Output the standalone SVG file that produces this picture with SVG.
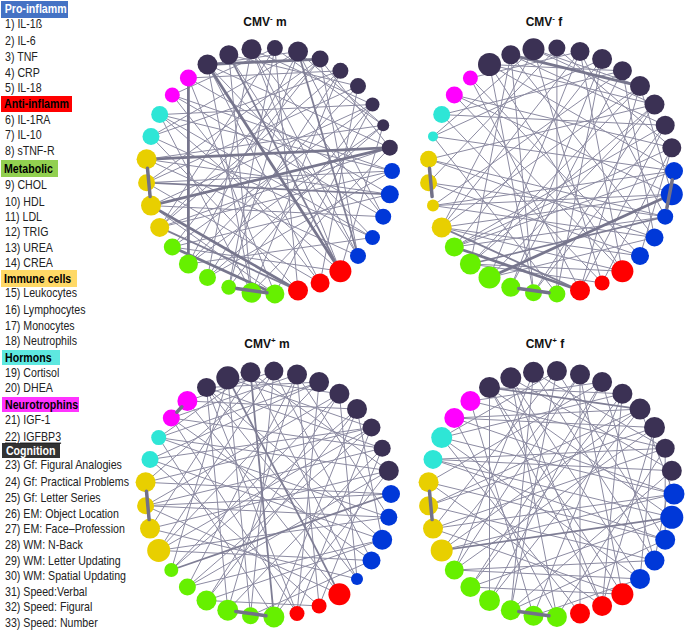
<svg xmlns="http://www.w3.org/2000/svg" width="685" height="632" viewBox="0 0 685 632">
<style>
.e{stroke:#8c8ba2;stroke-width:1;fill:none}
.m{stroke:#7f7e95;stroke-width:1.8;fill:none}
.t{stroke:#77768d;stroke-width:2.8;fill:none}
.o{stroke:#727188;stroke-width:3.5;fill:none;stroke-linecap:round}
.k{fill:#3b3154}.b{fill:#0038d8}.r{fill:#ff0000}.g{fill:#66f000}.y{fill:#e8cf00}.c{fill:#2ee6d6}.p{fill:#ff00ff}
.lt{font-family:"Liberation Sans",Arial,sans-serif;font-size:12.5px;fill:#222}
.lh{font-family:"Liberation Sans",Arial,sans-serif;font-size:12.5px;font-weight:bold;fill:#000}
.ti{font-family:"Liberation Sans",Arial,sans-serif;font-size:12px;font-weight:bold;fill:#111;text-anchor:middle}
</style>

<g id="legend">
<rect x="1" y="1" width="67" height="17" fill="#4472c4"/>
<rect x="1" y="96" width="71" height="16" fill="#ff0000"/>
<rect x="1" y="160" width="57" height="17" fill="#92d050"/>
<rect x="1" y="270" width="76" height="17" fill="#ffd966"/>
<rect x="2" y="350" width="58" height="15" fill="#5ee8e0"/>
<rect x="2" y="397" width="77" height="15" fill="#ff33ff"/>
<rect x="2" y="443" width="58" height="15" fill="#333333"/>
<g transform="scale(0.85 1)">
<text class="lh" x="5.5" y="13.5" style="fill:#fff">Pro-inflamm</text>
<text class="lh" x="4.7" y="108.5">Anti-inflamm</text>
<text class="lh" x="4.7" y="173">Metabolic</text>
<text class="lh" x="4.7" y="283">Immune cells</text>
<text class="lh" x="5.9" y="362">Hormons</text>
<text class="lh" x="5.9" y="409">Neurotrophins</text>
<text class="lh" x="7" y="455" style="fill:#fff">Cognition</text>
<text class="lt" x="5.9" y="28.5">1) IL-1ß</text>
<text class="lt" x="5.9" y="45.5">2) IL-6</text>
<text class="lt" x="5.9" y="61.5">3) TNF</text>
<text class="lt" x="5.9" y="77.5">4) CRP</text>
<text class="lt" x="5.9" y="92.5">5) IL-18</text>
<text class="lt" x="5.9" y="124.5">6) IL-1RA</text>
<text class="lt" x="5.9" y="139.5">7) IL-10</text>
<text class="lt" x="5.9" y="155.5">8) sTNF-R</text>
<text class="lt" x="5.9" y="189.5">9) CHOL</text>
<text class="lt" x="5.9" y="206.5">10) HDL</text>
<text class="lt" x="5.9" y="221.5">11) LDL</text>
<text class="lt" x="5.9" y="236.5">12) TRIG</text>
<text class="lt" x="5.9" y="252.5">13) UREA</text>
<text class="lt" x="5.9" y="267.5">14) CREA</text>
<text class="lt" x="5.9" y="297.5">15) Leukocytes</text>
<text class="lt" x="5.9" y="314.5">16) Lymphocytes</text>
<text class="lt" x="5.9" y="330.5">17) Monocytes</text>
<text class="lt" x="5.9" y="345.5">18) Neutrophils</text>
<text class="lt" x="5.9" y="377.5">19) Cortisol</text>
<text class="lt" x="5.9" y="392.5">20) DHEA</text>
<text class="lt" x="5.9" y="424.5">21) IGF-1</text>
<text class="lt" x="5.9" y="441.5" text-decoration="underline">22) IGFBP3</text>
<text class="lt" x="5.9" y="469.5">23) Gf: Figural Analogies</text>
<text class="lt" x="5.9" y="486.5">24) Gf: Practical Problems</text>
<text class="lt" x="5.9" y="502.5">25) Gf: Letter Series</text>
<text class="lt" x="5.9" y="518.5">26) EM: Object Location</text>
<text class="lt" x="5.9" y="533.5">27) EM: Face–Profession</text>
<text class="lt" x="5.9" y="549.5">28) WM: N-Back</text>
<text class="lt" x="5.9" y="565.5">29) WM: Letter Updating</text>
<text class="lt" x="5.9" y="580.5">30) WM: Spatial Updating</text>
<text class="lt" x="5.9" y="596.5">31) Speed:Verbal</text>
<text class="lt" x="5.9" y="611.5">32) Speed: Figural</text>
<text class="lt" x="5.9" y="627.5">33) Speed: Number</text>
</g>
</g>

<g id="titles">
<text class="ti" x="265" y="26">CMV<tspan dy="-5" font-size="8">-</tspan><tspan dy="5"> m</tspan></text>
<text class="ti" x="544" y="26">CMV<tspan dy="-5" font-size="8">-</tspan><tspan dy="5"> f</tspan></text>
<text class="ti" x="267" y="348">CMV<tspan dy="-5" font-size="8">+</tspan><tspan dy="5"> m</tspan></text>
<text class="ti" x="545" y="348">CMV<tspan dy="-5" font-size="8">+</tspan><tspan dy="5"> f</tspan></text>
</g>

<!-- ===== Panel CMV- m ===== -->
<g id="panel-tl" transform="translate(269,171)">
<g id="tl-connectors">
<path class="e" d="M-61.5 -106.5L120.8 -23.3"/>
<path class="e" d="M-61.5 -106.5L103.5 66.5"/>
<path class="e" d="M-61.5 -106.5L51.1 111.9"/>
<path class="e" d="M-40.2 -116.2L89 84.9"/>
<path class="e" d="M-40.2 -116.2L-17.5 121.7"/>
<path class="e" d="M-17.5 -121.7L71.4 100.2"/>
<path class="e" d="M-17.5 -121.7L-61.5 106.5"/>
<path class="e" d="M5.9 -122.9L29 119.5"/>
<path class="e" d="M5.9 -122.9L-109.3 56.4"/>
<path class="e" d="M29 -119.5L114.2 45.7"/>
<path class="e" d="M29 -119.5L-40.2 116.2"/>
<path class="e" d="M51.1 -111.9L-96.7 76"/>
<path class="e" d="M51.1 -111.9L-122.4 11.7"/>
<path class="e" d="M71.4 -100.2L-17.5 121.7"/>
<path class="e" d="M71.4 -100.2L-118 -34.6"/>
<path class="e" d="M89 -84.9L-80.6 93"/>
<path class="e" d="M89 -84.9L51.1 111.9"/>
<path class="e" d="M103.5 -66.5L-118 34.6"/>
<path class="e" d="M103.5 -66.5L5.9 122.9"/>
<path class="e" d="M114.2 -45.7L-122.4 -11.7"/>
<path class="e" d="M114.2 -45.7L-61.5 106.5"/>
<path class="e" d="M120.8 -23.3L-109.3 56.4"/>
<path class="e" d="M123 0L-122.4 11.7"/>
<path class="e" d="M123 0L-109.3 -56.4"/>
<path class="e" d="M120.8 23.3L-96.7 76"/>
<path class="e" d="M120.8 23.3L-80.6 -93"/>
<path class="e" d="M114.2 45.7L-118 34.6"/>
<path class="e" d="M114.2 45.7L-96.7 -76"/>
<path class="e" d="M103.5 66.5L-118 -34.6"/>
<path class="e" d="M103.5 66.5L-80.6 93"/>
<path class="e" d="M89 84.9L-122.4 -11.7"/>
<path class="e" d="M89 84.9L-17.5 -121.7"/>
<path class="e" d="M71.4 100.2L-109.3 -56.4"/>
<path class="e" d="M71.4 100.2L-96.7 76"/>
<path class="e" d="M51.1 111.9L-96.7 -76"/>
<path class="e" d="M51.1 111.9L-122.4 11.7"/>
<path class="e" d="M29 119.5L-118 -34.6"/>
<path class="e" d="M5.9 122.9L-80.6 -93"/>
<path class="e" d="M-17.5 121.7L-109.3 -56.4"/>
<path class="e" d="M-40.2 116.2L5.9 -122.9"/>
<path class="e" d="M-61.5 106.5L71.4 -100.2"/>
<path class="e" d="M-80.6 93L114.2 -45.7"/>
<path class="e" d="M-96.7 76L103.5 -66.5"/>
<path class="e" d="M-109.3 56.4L51.1 -111.9"/>
<path class="e" d="M-109.3 56.4L123 0"/>
<path class="e" d="M-122.4 11.7L89 -84.9"/>
<path class="e" d="M-118 -34.6L29 -119.5"/>
<path class="e" d="M-109.3 -56.4L103.5 -66.5"/>
<path class="e" d="M-96.7 -76L5.9 -122.9"/>
<path class="e" d="M-80.6 -93L71.4 -100.2"/>
<path class="e" d="M-61.5 -106.5L-17.5 121.7"/>
<path class="e" d="M-17.5 -121.7L114.2 45.7"/>
<path class="e" d="M29 -119.5L-80.6 93"/>
<path class="e" d="M51.1 -111.9L89 84.9"/>
<path class="e" d="M71.4 -100.2L-109.3 56.4"/>
<path class="e" d="M103.5 -66.5L-40.2 116.2"/>
<path class="e" d="M114.2 -45.7L71.4 100.2"/>
<path class="e" d="M120.8 -23.3L-17.5 121.7"/>
<path class="e" d="M123 0L-61.5 106.5"/>
<path class="e" d="M120.8 23.3L-122.4 -11.7"/>
<path class="e" d="M-109.3 -56.4L103.5 66.5"/>
<path class="e" d="M-40.2 -116.2L89 -84.9"/>
<path class="e" d="M-17.5 -121.7L103.5 -66.5"/>
<path class="e" d="M5.9 -122.9L114.2 -45.7"/>
<path class="e" d="M-96.7 -76L123 0"/>
<path class="e" d="M5.9 122.9L-118 34.6"/>
<path class="e" d="M-61.5 -106.5L29 -119.5"/>
<path class="e" d="M29 -119.5L114.2 -45.7"/>
<path class="e" d="M51.1 -111.9L120.8 -23.3"/>
<path class="m" d="M-40.2 -116.2L71.4 100.2"/>
<path class="m" d="M29 -119.5L89 84.9"/>
<path class="m" d="M-122.4 11.7L120.8 23.3"/>
<path class="m" d="M-109.3 56.4L29 119.5"/>
<path class="t" d="M-80.6 -93L-80.6 93"/>
<path class="t" d="M-122.4 -11.7L120.8 -23.3"/>
<path class="t" d="M-118 34.6L120.8 -23.3"/>
<path class="t" d="M-61.5 -106.5L51.1 -111.9"/>
<path class="t" d="M-61.5 -106.5L71.4 100.2"/>
<path class="t" d="M-96.7 76L5.9 122.9"/>
<path class="t" d="M-118 34.6L29 119.5"/>
</g>
<g id="tl-nodes">
<g id="tl1"><circle class="b" cx="123" cy="0" r="8"/></g>
<g id="tl2"><circle class="b" cx="120.8" cy="23.3" r="9"/></g>
<g id="tl3"><circle class="b" cx="114.2" cy="45.7" r="8"/></g>
<g id="tl4"><circle class="b" cx="103.5" cy="66.5" r="7.5"/></g>
<g id="tl5"><circle class="b" cx="89" cy="84.9" r="8"/></g>
<g id="tl6"><circle class="r" cx="71.4" cy="100.2" r="11"/></g>
<g id="tl7"><circle class="r" cx="51.1" cy="111.9" r="9.5"/></g>
<g id="tl8"><circle class="r" cx="29" cy="119.5" r="10"/></g>
<g id="tl9"><circle class="g" cx="5.9" cy="122.9" r="9.5"/></g>
<g id="tl10"><circle class="g" cx="-17.5" cy="121.7" r="10"/></g>
<g id="tl11"><circle class="g" cx="-40.2" cy="116.2" r="7.5"/></g>
<g id="tl12"><circle class="g" cx="-61.5" cy="106.5" r="8.5"/></g>
<g id="tl13"><circle class="g" cx="-80.6" cy="93" r="9.5"/></g>
<g id="tl14"><circle class="g" cx="-96.7" cy="76" r="8.5"/></g>
<g id="tl15"><circle class="y" cx="-109.3" cy="56.4" r="9.5"/></g>
<g id="tl16"><circle class="y" cx="-118" cy="34.6" r="10"/></g>
<g id="tl17"><circle class="y" cx="-122.4" cy="11.7" r="8.5"/></g>
<g id="tl18"><circle class="y" cx="-122.4" cy="-11.7" r="10"/></g>
<g id="tl19"><circle class="c" cx="-118" cy="-34.6" r="8.5"/></g>
<g id="tl20"><circle class="c" cx="-109.3" cy="-56.4" r="8.5"/></g>
<g id="tl21"><circle class="p" cx="-96.7" cy="-76" r="7.5"/></g>
<g id="tl22"><circle class="p" cx="-80.6" cy="-93" r="8.5"/></g>
<g id="tl23"><circle class="k" cx="-61.5" cy="-106.5" r="10"/></g>
<g id="tl24"><circle class="k" cx="-40.2" cy="-116.2" r="9.5"/></g>
<g id="tl25"><circle class="k" cx="-17.5" cy="-121.7" r="10"/></g>
<g id="tl26"><circle class="k" cx="5.9" cy="-122.9" r="8"/></g>
<g id="tl27"><circle class="k" cx="29" cy="-119.5" r="10"/></g>
<g id="tl28"><circle class="k" cx="51.1" cy="-111.9" r="8.5"/></g>
<g id="tl29"><circle class="k" cx="71.4" cy="-100.2" r="8"/></g>
<g id="tl30"><circle class="k" cx="89" cy="-84.9" r="8"/></g>
<g id="tl31"><circle class="k" cx="103.5" cy="-66.5" r="7"/></g>
<g id="tl32"><circle class="k" cx="114.2" cy="-45.7" r="6"/></g>
<g id="tl33"><circle class="k" cx="120.8" cy="-23.3" r="8"/></g>
</g>
<g id="tl-connectors-top">
<path class="o" d="M-121.5 -2.7L-118.9 25.6"/>
<path class="o" d="M-32.3 117.4L-2 121.8"/>
</g>
</g>

<!-- ===== Panel CMV- f ===== -->
<g id="panel-tr" transform="translate(551,171)">
<g id="tr-connectors">
<path class="e" d="M-61.5 -106.5L123 0"/>
<path class="e" d="M-61.5 -106.5L71.4 100.2"/>
<path class="e" d="M-61.5 -106.5L-17.5 121.7"/>
<path class="e" d="M-40.2 -116.2L103.5 66.5"/>
<path class="e" d="M-40.2 -116.2L-80.6 93"/>
<path class="e" d="M-17.5 -121.7L51.1 111.9"/>
<path class="e" d="M-17.5 -121.7L-109.3 56.4"/>
<path class="e" d="M5.9 -122.9L5.9 122.9"/>
<path class="e" d="M5.9 -122.9L-122.4 11.7"/>
<path class="e" d="M29 -119.5L-61.5 106.5"/>
<path class="e" d="M29 -119.5L114.2 45.7"/>
<path class="e" d="M51.1 -111.9L-96.7 76"/>
<path class="e" d="M51.1 -111.9L-118 -34.6"/>
<path class="e" d="M71.4 -100.2L-40.2 116.2"/>
<path class="e" d="M71.4 -100.2L-118 34.6"/>
<path class="e" d="M89 -84.9L-109.3 56.4"/>
<path class="e" d="M89 -84.9L29 119.5"/>
<path class="e" d="M103.5 -66.5L-80.6 93"/>
<path class="e" d="M103.5 -66.5L-122.4 -11.7"/>
<path class="e" d="M114.2 -45.7L-17.5 121.7"/>
<path class="e" d="M114.2 -45.7L-109.3 -56.4"/>
<path class="e" d="M120.8 -23.3L-96.7 76"/>
<path class="e" d="M120.8 -23.3L51.1 111.9"/>
<path class="e" d="M123 0L-118 34.6"/>
<path class="e" d="M123 0L-118 -34.6"/>
<path class="e" d="M120.8 23.3L-109.3 56.4"/>
<path class="e" d="M120.8 23.3L-96.7 -76"/>
<path class="e" d="M114.2 45.7L-122.4 11.7"/>
<path class="e" d="M114.2 45.7L-96.7 76"/>
<path class="e" d="M103.5 66.5L-122.4 -11.7"/>
<path class="e" d="M103.5 66.5L-61.5 106.5"/>
<path class="e" d="M89 84.9L-109.3 56.4"/>
<path class="e" d="M89 84.9L-80.6 -93"/>
<path class="e" d="M71.4 100.2L-80.6 93"/>
<path class="e" d="M71.4 100.2L-96.7 -76"/>
<path class="e" d="M51.1 111.9L-109.3 -56.4"/>
<path class="e" d="M29 119.5L-80.6 -93"/>
<path class="e" d="M5.9 122.9L-118 -34.6"/>
<path class="e" d="M-17.5 121.7L-40.2 -116.2"/>
<path class="e" d="M-40.2 116.2L51.1 -111.9"/>
<path class="e" d="M-61.5 106.5L103.5 -66.5"/>
<path class="e" d="M-80.6 93L89 -84.9"/>
<path class="e" d="M-96.7 76L114.2 -45.7"/>
<path class="e" d="M-109.3 56.4L29 -119.5"/>
<path class="e" d="M-118 34.6L120.8 23.3"/>
<path class="e" d="M-122.4 11.7L89 84.9"/>
<path class="e" d="M-122.4 -11.7L114.2 45.7"/>
<path class="e" d="M-118 -34.6L-17.5 -121.7"/>
<path class="e" d="M-109.3 -56.4L71.4 -100.2"/>
<path class="e" d="M-96.7 -76L120.8 -23.3"/>
<path class="e" d="M-80.6 -93L29 -119.5"/>
<path class="e" d="M-61.5 -106.5L103.5 -66.5"/>
<path class="e" d="M-40.2 -116.2L114.2 -45.7"/>
<path class="e" d="M-17.5 -121.7L89 -84.9"/>
<path class="e" d="M5.9 -122.9L120.8 -23.3"/>
<path class="e" d="M29 -119.5L71.4 100.2"/>
<path class="e" d="M51.1 -111.9L5.9 122.9"/>
<path class="e" d="M71.4 -100.2L103.5 66.5"/>
<path class="e" d="M89 -84.9L120.8 23.3"/>
<path class="e" d="M103.5 -66.5L-17.5 121.7"/>
<path class="e" d="M114.2 -45.7L29 119.5"/>
<path class="e" d="M120.8 -23.3L89 84.9"/>
<path class="e" d="M-109.3 56.4L71.4 100.2"/>
<path class="e" d="M-80.6 93L51.1 111.9"/>
<path class="e" d="M-96.7 76L123 0"/>
<path class="e" d="M-118 34.6L103.5 66.5"/>
<path class="e" d="M-61.5 -106.5L71.4 -100.2"/>
<path class="e" d="M-17.5 -121.7L103.5 -66.5"/>
<path class="m" d="M-109.3 56.4L29 119.5"/>
<path class="m" d="M-80.6 93L114.2 45.7"/>
<path class="t" d="M-61.5 106.5L120.8 23.3"/>
<path class="t" d="M-96.7 76L29 119.5"/>
<path class="t" d="M-40.2 -116.2L89 -84.9"/>
</g>
<g id="tr-nodes">
<g id="tr1"><circle class="b" cx="123" cy="0" r="9"/></g>
<g id="tr2"><circle class="b" cx="120.8" cy="23.3" r="11"/></g>
<g id="tr3"><circle class="b" cx="114.2" cy="45.7" r="8"/></g>
<g id="tr4"><circle class="b" cx="103.5" cy="66.5" r="9"/></g>
<g id="tr5"><circle class="b" cx="89" cy="84.9" r="9"/></g>
<g id="tr6"><circle class="r" cx="71.4" cy="100.2" r="11"/></g>
<g id="tr7"><circle class="r" cx="51.1" cy="111.9" r="7.5"/></g>
<g id="tr8"><circle class="r" cx="29" cy="119.5" r="10"/></g>
<g id="tr9"><circle class="g" cx="5.9" cy="122.9" r="8.5"/></g>
<g id="tr10"><circle class="g" cx="-17.5" cy="121.7" r="8.5"/></g>
<g id="tr11"><circle class="g" cx="-40.2" cy="116.2" r="9.5"/></g>
<g id="tr12"><circle class="g" cx="-61.5" cy="106.5" r="11"/></g>
<g id="tr13"><circle class="g" cx="-80.6" cy="93" r="10.5"/></g>
<g id="tr14"><circle class="g" cx="-96.7" cy="76" r="9.5"/></g>
<g id="tr15"><circle class="y" cx="-109.3" cy="56.4" r="10"/></g>
<g id="tr16"><circle class="y" cx="-118" cy="34.6" r="6"/></g>
<g id="tr17"><circle class="y" cx="-122.4" cy="11.7" r="8.5"/></g>
<g id="tr18"><circle class="y" cx="-122.4" cy="-11.7" r="8.5"/></g>
<g id="tr19"><circle class="c" cx="-118" cy="-34.6" r="5"/></g>
<g id="tr20"><circle class="c" cx="-109.3" cy="-56.4" r="8.5"/></g>
<g id="tr21"><circle class="p" cx="-96.7" cy="-76" r="8.5"/></g>
<g id="tr22"><circle class="p" cx="-80.6" cy="-93" r="7.5"/></g>
<g id="tr23"><circle class="k" cx="-61.5" cy="-106.5" r="11.5"/></g>
<g id="tr24"><circle class="k" cx="-40.2" cy="-116.2" r="9.5"/></g>
<g id="tr25"><circle class="k" cx="-17.5" cy="-121.7" r="11"/></g>
<g id="tr26"><circle class="k" cx="5.9" cy="-122.9" r="8.5"/></g>
<g id="tr27"><circle class="k" cx="29" cy="-119.5" r="9.5"/></g>
<g id="tr28"><circle class="k" cx="51.1" cy="-111.9" r="10"/></g>
<g id="tr29"><circle class="k" cx="71.4" cy="-100.2" r="9.5"/></g>
<g id="tr30"><circle class="k" cx="89" cy="-84.9" r="10"/></g>
<g id="tr31"><circle class="k" cx="103.5" cy="-66.5" r="10"/></g>
<g id="tr32"><circle class="k" cx="114.2" cy="-45.7" r="9.5"/></g>
<g id="tr33"><circle class="k" cx="120.8" cy="-23.3" r="9.5"/></g>
</g>
<g id="tr-connectors-top">
<path class="o" d="M-121.5 -2.7L-118.9 25.6"/>
<path class="o" d="M-32.3 117.4L-2 121.8"/>
<path class="o" d="M121.3 8.8L115.9 36.9"/>
</g>
</g>

<!-- ===== Panel CMV+ m ===== -->
<g id="panel-bl" transform="translate(268,494)">
<g id="bl-connectors">
<path class="e" d="M-61.5 -106.5L114.2 45.7"/>
<path class="e" d="M-61.5 -106.5L29 119.5"/>
<path class="e" d="M-61.5 -106.5L-40.2 116.2"/>
<path class="e" d="M-40.2 -116.2L-96.7 76"/>
<path class="e" d="M-17.5 -121.7L89 84.9"/>
<path class="e" d="M-17.5 -121.7L-118 34.6"/>
<path class="e" d="M5.9 -122.9L-17.5 121.7"/>
<path class="e" d="M5.9 -122.9L-122.4 -11.7"/>
<path class="e" d="M29 -119.5L-80.6 93"/>
<path class="e" d="M29 -119.5L120.8 23.3"/>
<path class="e" d="M51.1 -111.9L-109.3 56.4"/>
<path class="e" d="M51.1 -111.9L-109.3 -56.4"/>
<path class="e" d="M71.4 -100.2L-61.5 106.5"/>
<path class="e" d="M71.4 -100.2L-122.4 11.7"/>
<path class="e" d="M89 -84.9L-96.7 76"/>
<path class="e" d="M89 -84.9L5.9 122.9"/>
<path class="e" d="M103.5 -66.5L-109.3 56.4"/>
<path class="e" d="M103.5 -66.5L-118 -34.6"/>
<path class="e" d="M114.2 -45.7L-40.2 116.2"/>
<path class="e" d="M114.2 -45.7L-96.7 -76"/>
<path class="e" d="M120.8 -23.3L-80.6 93"/>
<path class="e" d="M120.8 -23.3L-118 34.6"/>
<path class="e" d="M123 0L-122.4 -11.7"/>
<path class="e" d="M120.8 23.3L-122.4 11.7"/>
<path class="e" d="M120.8 23.3L-109.3 -56.4"/>
<path class="e" d="M114.2 45.7L-118 -34.6"/>
<path class="e" d="M114.2 45.7L-80.6 93"/>
<path class="e" d="M103.5 66.5L-109.3 56.4"/>
<path class="e" d="M103.5 66.5L-96.7 -76"/>
<path class="e" d="M89 84.9L-118 34.6"/>
<path class="e" d="M89 84.9L-61.5 -106.5"/>
<path class="e" d="M71.4 100.2L-122.4 11.7"/>
<path class="e" d="M71.4 100.2L-80.6 -93"/>
<path class="e" d="M51.1 111.9L-118 -34.6"/>
<path class="e" d="M51.1 111.9L-61.5 106.5"/>
<path class="e" d="M29 119.5L-96.7 -76"/>
<path class="e" d="M5.9 122.9L-109.3 -56.4"/>
<path class="e" d="M-17.5 121.7L-40.2 -116.2"/>
<path class="e" d="M-40.2 116.2L29 -119.5"/>
<path class="e" d="M-61.5 106.5L89 -84.9"/>
<path class="e" d="M-80.6 93L103.5 -66.5"/>
<path class="e" d="M-96.7 76L71.4 -100.2"/>
<path class="e" d="M-109.3 56.4L5.9 -122.9"/>
<path class="e" d="M-122.4 11.7L114.2 -45.7"/>
<path class="e" d="M-122.4 -11.7L103.5 -66.5"/>
<path class="e" d="M-118 -34.6L51.1 -111.9"/>
<path class="e" d="M-109.3 -56.4L120.8 -23.3"/>
<path class="e" d="M-96.7 -76L29 -119.5"/>
<path class="e" d="M-80.6 -93L5.9 -122.9"/>
<path class="e" d="M-61.5 -106.5L114.2 -45.7"/>
<path class="e" d="M-40.2 -116.2L103.5 -66.5"/>
<path class="e" d="M-17.5 -121.7L120.8 -23.3"/>
<path class="e" d="M5.9 -122.9L103.5 66.5"/>
<path class="e" d="M29 -119.5L51.1 111.9"/>
<path class="e" d="M51.1 -111.9L29 119.5"/>
<path class="e" d="M71.4 -100.2L89 84.9"/>
<path class="e" d="M89 -84.9L114.2 45.7"/>
<path class="e" d="M103.5 -66.5L29 119.5"/>
<path class="e" d="M114.2 -45.7L51.1 111.9"/>
<path class="e" d="M120.8 -23.3L5.9 122.9"/>
<path class="e" d="M-109.3 56.4L120.8 23.3"/>
<path class="e" d="M-122.4 11.7L123 0"/>
<path class="e" d="M-17.5 121.7L103.5 66.5"/>
<path class="e" d="M-61.5 106.5L114.2 45.7"/>
<path class="e" d="M-80.6 -93L89 -84.9"/>
<path class="e" d="M-109.3 -56.4L-17.5 -121.7"/>
<path class="e" d="M-61.5 -106.5L51.1 -111.9"/>
<path class="e" d="M-40.2 -116.2L71.4 -100.2"/>
<path class="m" d="M-40.2 -116.2L71.4 100.2"/>
<path class="m" d="M-17.5 -121.7L5.9 122.9"/>
<path class="m" d="M-96.7 76L123 0"/>
</g>
<g id="bl-nodes">
<g id="bl1"><circle class="b" cx="123" cy="0" r="9"/></g>
<g id="bl2"><circle class="b" cx="120.8" cy="23.3" r="8.5"/></g>
<g id="bl3"><circle class="b" cx="114.2" cy="45.7" r="10"/></g>
<g id="bl4"><circle class="b" cx="103.5" cy="66.5" r="9"/></g>
<g id="bl5"><circle class="b" cx="89" cy="84.9" r="6"/></g>
<g id="bl6"><circle class="r" cx="71.4" cy="100.2" r="11"/></g>
<g id="bl7"><circle class="r" cx="51.1" cy="111.9" r="7.5"/></g>
<g id="bl8"><circle class="r" cx="29" cy="119.5" r="7.5"/></g>
<g id="bl9"><circle class="g" cx="5.9" cy="122.9" r="10.5"/></g>
<g id="bl10"><circle class="g" cx="-17.5" cy="121.7" r="8.5"/></g>
<g id="bl11"><circle class="g" cx="-40.2" cy="116.2" r="10.5"/></g>
<g id="bl12"><circle class="g" cx="-61.5" cy="106.5" r="10"/></g>
<g id="bl13"><circle class="g" cx="-80.6" cy="93" r="8.5"/></g>
<g id="bl14"><circle class="g" cx="-96.7" cy="76" r="7"/></g>
<g id="bl15"><circle class="y" cx="-109.3" cy="56.4" r="11.5"/></g>
<g id="bl16"><circle class="y" cx="-118" cy="34.6" r="10"/></g>
<g id="bl17"><circle class="y" cx="-122.4" cy="11.7" r="8.5"/></g>
<g id="bl18"><circle class="y" cx="-122.4" cy="-11.7" r="10"/></g>
<g id="bl19"><circle class="c" cx="-118" cy="-34.6" r="8.5"/></g>
<g id="bl20"><circle class="c" cx="-109.3" cy="-56.4" r="7.5"/></g>
<g id="bl21"><circle class="p" cx="-96.7" cy="-76" r="8.5"/></g>
<g id="bl22"><circle class="p" cx="-80.6" cy="-93" r="10"/></g>
<g id="bl23"><circle class="k" cx="-61.5" cy="-106.5" r="9.5"/></g>
<g id="bl24"><circle class="k" cx="-40.2" cy="-116.2" r="11.5"/></g>
<g id="bl25"><circle class="k" cx="-17.5" cy="-121.7" r="10"/></g>
<g id="bl26"><circle class="k" cx="5.9" cy="-122.9" r="9.5"/></g>
<g id="bl27"><circle class="k" cx="29" cy="-119.5" r="10"/></g>
<g id="bl28"><circle class="k" cx="51.1" cy="-111.9" r="10"/></g>
<g id="bl29"><circle class="k" cx="71.4" cy="-100.2" r="10"/></g>
<g id="bl30"><circle class="k" cx="89" cy="-84.9" r="10"/></g>
<g id="bl31"><circle class="k" cx="103.5" cy="-66.5" r="9"/></g>
<g id="bl32"><circle class="k" cx="114.2" cy="-45.7" r="8.5"/></g>
<g id="bl33"><circle class="k" cx="120.8" cy="-23.3" r="10"/></g>
</g>
<g id="bl-connectors-top">
<path class="o" d="M-121.5 -2.7L-118.9 25.6"/>
<path class="o" d="M-32.3 117.4L-2 121.8"/>
<path class="o" d="M-86.1 -87.2L-91.2 -81.8"/>
</g>
</g>

<!-- ===== Panel CMV+ f ===== -->
<g id="panel-br" transform="translate(551,494)">
<g id="br-connectors">
<path class="e" d="M-61.5 -106.5L120.8 23.3"/>
<path class="e" d="M-61.5 -106.5L51.1 111.9"/>
<path class="e" d="M-61.5 -106.5L-61.5 106.5"/>
<path class="e" d="M-40.2 -116.2L89 84.9"/>
<path class="e" d="M-40.2 -116.2L5.9 122.9"/>
<path class="e" d="M-17.5 -121.7L103.5 66.5"/>
<path class="e" d="M-17.5 -121.7L-96.7 76"/>
<path class="e" d="M5.9 -122.9L-40.2 116.2"/>
<path class="e" d="M5.9 -122.9L-118 34.6"/>
<path class="e" d="M29 -119.5L29 119.5"/>
<path class="e" d="M29 -119.5L-109.3 56.4"/>
<path class="e" d="M51.1 -111.9L-80.6 93"/>
<path class="e" d="M51.1 -111.9L-122.4 -11.7"/>
<path class="e" d="M71.4 -100.2L-17.5 121.7"/>
<path class="e" d="M71.4 -100.2L-109.3 -56.4"/>
<path class="e" d="M89 -84.9L-61.5 106.5"/>
<path class="e" d="M89 -84.9L-122.4 11.7"/>
<path class="e" d="M103.5 -66.5L-96.7 76"/>
<path class="e" d="M103.5 -66.5L51.1 111.9"/>
<path class="e" d="M114.2 -45.7L-118 34.6"/>
<path class="e" d="M114.2 -45.7L5.9 122.9"/>
<path class="e" d="M120.8 -23.3L-40.2 116.2"/>
<path class="e" d="M120.8 -23.3L-118 -34.6"/>
<path class="e" d="M123 0L-109.3 56.4"/>
<path class="e" d="M123 0L-96.7 -76"/>
<path class="e" d="M120.8 23.3L-80.6 93"/>
<path class="e" d="M120.8 23.3L-118 -34.6"/>
<path class="e" d="M114.2 45.7L-122.4 -11.7"/>
<path class="e" d="M114.2 45.7L-40.2 116.2"/>
<path class="e" d="M103.5 66.5L-122.4 11.7"/>
<path class="e" d="M103.5 66.5L-96.7 76"/>
<path class="e" d="M89 84.9L-109.3 -56.4"/>
<path class="e" d="M89 84.9L-17.5 121.7"/>
<path class="e" d="M71.4 100.2L-118 34.6"/>
<path class="e" d="M71.4 100.2L-61.5 -106.5"/>
<path class="e" d="M51.1 111.9L-122.4 -11.7"/>
<path class="e" d="M51.1 111.9L-40.2 -116.2"/>
<path class="e" d="M29 119.5L-109.3 -56.4"/>
<path class="e" d="M5.9 122.9L-96.7 -76"/>
<path class="e" d="M-17.5 121.7L-80.6 -93"/>
<path class="e" d="M-40.2 116.2L-17.5 -121.7"/>
<path class="e" d="M-61.5 106.5L51.1 -111.9"/>
<path class="e" d="M-80.6 93L71.4 -100.2"/>
<path class="e" d="M-96.7 76L29 -119.5"/>
<path class="e" d="M-109.3 56.4L89 -84.9"/>
<path class="e" d="M-122.4 11.7L103.5 -66.5"/>
<path class="e" d="M-118 -34.6L114.2 -45.7"/>
<path class="e" d="M-109.3 -56.4L5.9 -122.9"/>
<path class="e" d="M-96.7 -76L89 -84.9"/>
<path class="e" d="M-80.6 -93L51.1 -111.9"/>
<path class="e" d="M-61.5 -106.5L71.4 -100.2"/>
<path class="e" d="M-40.2 -116.2L120.8 -23.3"/>
<path class="e" d="M-17.5 -121.7L114.2 -45.7"/>
<path class="e" d="M5.9 -122.9L114.2 45.7"/>
<path class="e" d="M29 -119.5L71.4 100.2"/>
<path class="e" d="M51.1 -111.9L103.5 66.5"/>
<path class="e" d="M71.4 -100.2L51.1 111.9"/>
<path class="e" d="M89 -84.9L123 0"/>
<path class="e" d="M103.5 -66.5L89 84.9"/>
<path class="e" d="M114.2 -45.7L114.2 45.7"/>
<path class="e" d="M120.8 -23.3L103.5 66.5"/>
<path class="e" d="M-80.6 93L71.4 100.2"/>
<path class="e" d="M-96.7 76L89 84.9"/>
<path class="e" d="M-118 34.6L123 0"/>
<path class="e" d="M-118 -34.6L114.2 45.7"/>
<path class="e" d="M-96.7 -76L103.5 -66.5"/>
<path class="e" d="M-80.6 -93L114.2 -45.7"/>
<path class="e" d="M-109.3 -56.4L123 0"/>
<path class="m" d="M-109.3 56.4L120.8 23.3"/>
<path class="m" d="M-61.5 -106.5L89 -84.9"/>
</g>
<g id="br-nodes">
<g id="br1"><circle class="b" cx="123" cy="0" r="10.5"/></g>
<g id="br2"><circle class="b" cx="120.8" cy="23.3" r="11.5"/></g>
<g id="br3"><circle class="b" cx="114.2" cy="45.7" r="10"/></g>
<g id="br4"><circle class="b" cx="103.5" cy="66.5" r="10"/></g>
<g id="br5"><circle class="b" cx="89" cy="84.9" r="10"/></g>
<g id="br6"><circle class="r" cx="71.4" cy="100.2" r="11"/></g>
<g id="br7"><circle class="r" cx="51.1" cy="111.9" r="10"/></g>
<g id="br8"><circle class="r" cx="29" cy="119.5" r="10"/></g>
<g id="br9"><circle class="g" cx="5.9" cy="122.9" r="10"/></g>
<g id="br10"><circle class="g" cx="-17.5" cy="121.7" r="10"/></g>
<g id="br11"><circle class="g" cx="-40.2" cy="116.2" r="10"/></g>
<g id="br12"><circle class="g" cx="-61.5" cy="106.5" r="10.5"/></g>
<g id="br13"><circle class="g" cx="-80.6" cy="93" r="10"/></g>
<g id="br14"><circle class="g" cx="-96.7" cy="76" r="9.5"/></g>
<g id="br15"><circle class="y" cx="-109.3" cy="56.4" r="11"/></g>
<g id="br16"><circle class="y" cx="-118" cy="34.6" r="10"/></g>
<g id="br17"><circle class="y" cx="-122.4" cy="11.7" r="9.5"/></g>
<g id="br18"><circle class="y" cx="-122.4" cy="-11.7" r="10"/></g>
<g id="br19"><circle class="c" cx="-118" cy="-34.6" r="9.5"/></g>
<g id="br20"><circle class="c" cx="-109.3" cy="-56.4" r="10.5"/></g>
<g id="br21"><circle class="p" cx="-96.7" cy="-76" r="10"/></g>
<g id="br22"><circle class="p" cx="-80.6" cy="-93" r="10"/></g>
<g id="br23"><circle class="k" cx="-61.5" cy="-106.5" r="10.5"/></g>
<g id="br24"><circle class="k" cx="-40.2" cy="-116.2" r="10.5"/></g>
<g id="br25"><circle class="k" cx="-17.5" cy="-121.7" r="10.5"/></g>
<g id="br26"><circle class="k" cx="5.9" cy="-122.9" r="10"/></g>
<g id="br27"><circle class="k" cx="29" cy="-119.5" r="10"/></g>
<g id="br28"><circle class="k" cx="51.1" cy="-111.9" r="10"/></g>
<g id="br29"><circle class="k" cx="71.4" cy="-100.2" r="10"/></g>
<g id="br30"><circle class="k" cx="89" cy="-84.9" r="10.5"/></g>
<g id="br31"><circle class="k" cx="103.5" cy="-66.5" r="10.5"/></g>
<g id="br32"><circle class="k" cx="114.2" cy="-45.7" r="9.5"/></g>
<g id="br33"><circle class="k" cx="120.8" cy="-23.3" r="10"/></g>
</g>
<g id="br-connectors-top">
<path class="o" d="M-121.5 -2.7L-118.9 25.6"/>
<path class="o" d="M-32.3 117.4L-2 121.8"/>
</g>
</g>
</svg>
